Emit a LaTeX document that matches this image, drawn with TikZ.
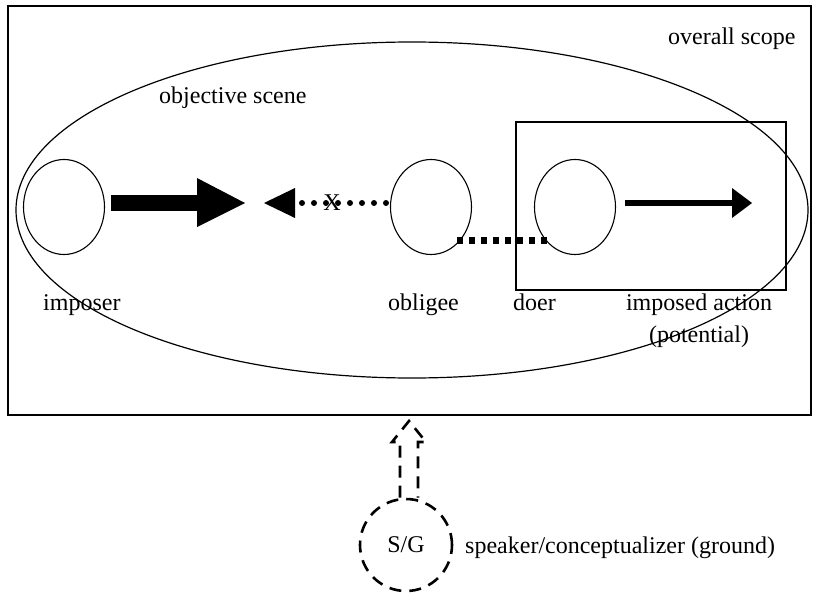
\documentclass[tikz,border=0pt]{standalone}
\usepackage{fontspec}
\setmainfont{Liberation Serif}
\usetikzlibrary{shapes.geometric}
\begin{document}
\begin{tikzpicture}[x=1pt,y=-1pt,
  lbl/.style={font=\fontsize{24}{28}\selectfont, inner sep=0pt},
  role/.style={draw, ellipse, line width=1.1pt, minimum width=81pt, minimum height=95pt, inner sep=0pt},
  frame/.style={draw, line width=2.2pt},
  solidhead/.style={fill=black, draw=none},
  dotline/.style={line width=6pt, line cap=round, dash pattern=on 0pt off 12pt},
  squareline/.style={line width=7pt, dash pattern=on 6pt off 6pt},
  dashline/.style={line width=2.6pt, dash pattern=on 12pt off 8pt}]
\useasboundingbox (0,0) rectangle (817,594);

% overall scope and objective scene
\draw[frame] (8,6) rectangle (811,415);
\draw[line width=1.2pt] (412,210) ellipse [x radius=396, y radius=168];
\draw[frame, line width=2.5pt] (516,122) rectangle (786,290);

% participants
\node[role] (imposer) at (64,207) {};
\node[role] (obligee) at (431,207) {};
\node[role] (doer) at (575,207) {};

% force exerted by the imposer
\fill (111,195) rectangle (198,211);
\fill[solidhead] (197,178) -- (245,203) -- (197,227) -- cycle;

% blocked counterforce of the obligee
\fill[solidhead] (264,203) -- (295,188) -- (295,218) -- cycle;
\coordinate (d1) at (302,203);
\coordinate (d2) at (392,203);
\draw[dotline] (d1) -- (d2);
\node[font=\fontsize{24}{28}\selectfont, inner sep=0pt] (x) at (332,203) {X};

% obligee = doer correspondence
\coordinate (c1) at (457,240);
\coordinate (c2) at (548,240);
\draw[squareline] (c1) -- (c2);

% imposed action
\coordinate (a1) at (625,203);
\coordinate (a2) at (734,203);
\draw[line width=6pt] (a1) -- (a2);
\fill[solidhead] (732,188) -- (752,203) -- (732,218) -- cycle;

% labels
\node[lbl, anchor=base west] (limp) at (43,310) {imposer};
\node[lbl, anchor=base west] (lobl) at (388,310) {obligee};
\node[lbl, anchor=base west] (ldoer) at (513,310) {doer};
\node[lbl, anchor=base] (lact) at (699,310) {imposed action};
\node[lbl, anchor=base] (lpot) at (699,342) {(potential)};
\node[lbl, anchor=base west] (lscene) at (159,103) {objective scene};
\node[lbl, anchor=base west] (lscope) at (668,45) {overall scope};

% ground
\node[draw, circle, dashline, minimum size=92pt, inner sep=0pt] (sg) at (406,545) {};
\node[lbl] (sgt) at (406,545) {S/G};
\node[lbl, anchor=base west] (lsg) at (465,553) {speaker/conceptualizer (ground)};

% viewing arrow from the ground
\draw[dashline, line join=miter] (sg.north -| 400,0) -- (400,442) -- (392,442) -- (409,421)
  -- (426,442) -- (418,442) -- (sg.north -| 418,0);
\end{tikzpicture}
\end{document}
